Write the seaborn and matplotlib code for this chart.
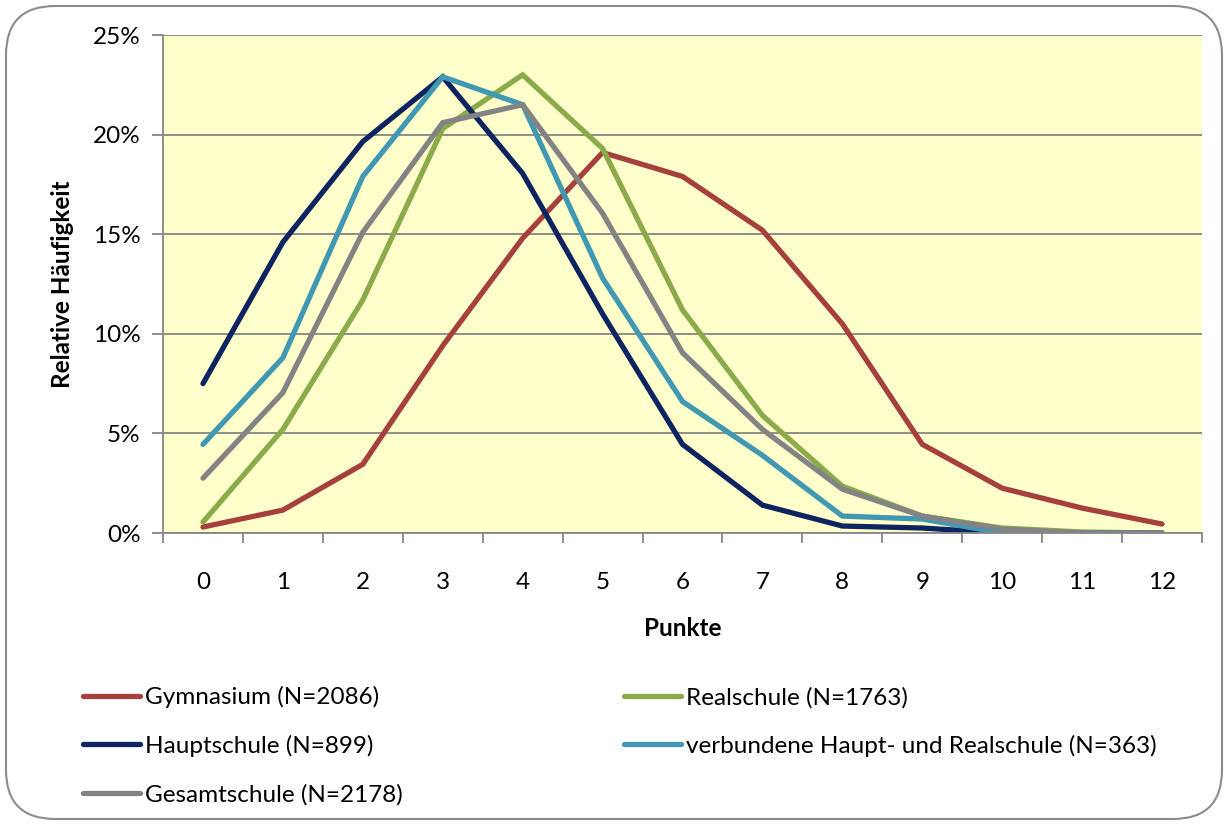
import matplotlib
matplotlib.use("Agg")
import matplotlib.pyplot as plt
import seaborn as sns
import pandas as pd
import numpy as np
from matplotlib.patches import FancyBboxPatch
from matplotlib.ticker import FuncFormatter, FixedLocator
from matplotlib.lines import Line2D

punkte = list(range(13))
gymnasium = [0.3, 1.15, 3.45, 9.4, 14.8, 19.1, 17.9, 15.2, 10.5, 4.45, 2.25, 1.25, 0.45]
realschule = [0.55, 5.2, 11.7, 20.3, 23.0, 19.3, 11.2, 5.9, 2.35, 0.85, 0.25, 0.05, 0.0]
hauptschule = [7.5, 14.6, 19.65, 22.9, 18.05, 11.0, 4.45, 1.4, 0.35, 0.25, 0.0, 0.0, 0.0]
verbundene = [4.45, 8.8, 17.9, 22.9, 21.5, 12.8, 6.6, 3.9, 0.85, 0.7, 0.0, 0.0, 0.0]
gesamtschule = [2.75, 7.05, 15.1, 20.6, 21.5, 16.05, 9.05, 5.2, 2.2, 0.85, 0.2, 0.0, 0.0]

labels = ["Gymnasium (N=2086)", "Realschule (N=1763)", "Hauptschule (N=899)",
          "verbundene Haupt- und Realschule (N=363)", "Gesamtschule (N=2178)"]
series = [gymnasium, realschule, hauptschule, verbundene, gesamtschule]
colors = ["#A5403D", "#8BAA4A", "#0E2461", "#4098B2", "#838383"]

rows = []
for lab, vals in zip(labels, series):
    for p, v in zip(punkte, vals):
        rows.append({"Punkte": p, "Wert": v, "Schule": lab})
df = pd.DataFrame(rows)

sns.set_theme(style="white")
plt.rcParams['font.family'] = ['Lato', 'DejaVu Sans']

W, H = 1229, 825
fig = plt.figure(figsize=(W / 100, H / 100), dpi=100)

ax = fig.add_axes([163 / W, (H - 533) / H, (1202 - 163) / W, (533 - 35) / H])
ax.set_facecolor("#FFFFCC")

palette = dict(zip(labels, colors))
sns.lineplot(data=df, x="Punkte", y="Wert", hue="Schule", hue_order=labels,
             palette=palette, linewidth=3.8, ax=ax, legend=False,
             solid_capstyle="round", solid_joinstyle="miter")

ax.set_xlim(-0.5, 12.5)
ax.set_ylim(0, 25)
ax.set_yticks([0, 5, 10, 15, 20, 25])
ax.yaxis.set_major_formatter(FuncFormatter(lambda v, p: f"{int(v)}%"))
ax.set_xticks(punkte)
ax.set_xticklabels([str(p) for p in punkte])
ax.xaxis.set_minor_locator(FixedLocator(np.arange(-0.5, 13, 1)))
ax.tick_params(axis="x", which="major", length=0, pad=28, labelsize=17.5, labelcolor="black")
ax.tick_params(axis="x", which="minor", length=7, width=1.3, color="#868686", direction="out", bottom=True)
ax.tick_params(axis="y", which="major", length=8, width=1.3, color="#868686", direction="out",
               pad=8, labelsize=17.5, labelcolor="black", left=True)

ax.grid(axis="y", color="#868686", linewidth=1.3)
ax.set_axisbelow(True)
for s in ["top", "right"]:
    ax.spines[s].set_visible(False)
for s in ["left", "bottom"]:
    ax.spines[s].set_color("#868686")
    ax.spines[s].set_linewidth(1.3)

ax.set_xlabel("Punkte", fontsize=17.5, fontweight="bold", color="black", va="center")
ax.xaxis.set_label_coords(0.5, -(628 - 533) / (533 - 35))
ax.set_ylabel("Relative Häufigkeit", fontsize=17.5, fontweight="bold", color="black", va="center")
ax.yaxis.set_label_coords(-(163 - 62) / (1202 - 163), 0.5)

order = [0, 2, 4, 1, 3]
handles = [Line2D([0], [0], color=colors[i], linewidth=3.8, solid_capstyle="round") for i in order]
leg = fig.legend(handles, [labels[i] for i in order], ncol=2,
                 loc="upper left", bbox_to_anchor=(83 / W, 1 - 686 / H),
                 frameon=False, fontsize=17.5, handlelength=2.35, handletextpad=0.2,
                 columnspacing=9.1, labelspacing=1.1, borderaxespad=0, borderpad=0)
for t in leg.get_texts():
    t.set_color("black")

# rounded border
border = FancyBboxPatch((6 / W, 6 / H), (1222 - 6) / W, (819 - 6) / H,
                        boxstyle="round,pad=0,rounding_size=0.04",
                        transform=fig.transFigure, facecolor="none",
                        edgecolor="#8C8C8C", linewidth=1.5, zorder=-1,
                        mutation_aspect=W / H)
fig.patches.append(border)

fig.savefig("out.png", dpi=100)
